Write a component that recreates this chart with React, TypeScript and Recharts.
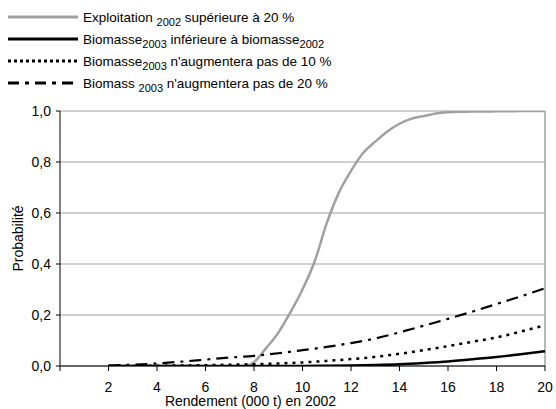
import React from "react";
import { LineChart, Line, XAxis, YAxis, CartesianGrid, ReferenceLine } from "recharts";

// rendement (000 t) en 2002, pas de 0,5 pour la courbe d'exploitation
const rendementFin = [
  2, 2.5, 3, 3.5, 4, 4.5, 5, 5.5, 6, 6.5, 7, 7.5, 8, 8.5, 9, 9.5, 10, 10.5, 11,
  11.5, 12, 12.5, 13, 13.5, 14, 14.5, 15, 15.5, 16, 16.5, 17, 17.5, 18, 18.5, 19,
  19.5, 20,
];
const exploitation = [
  0, 0, 0, 0, 0, 0, 0, 0, 0, -0.004, -0.008, -0.005, 0.015, 0.07, 0.13, 0.21,
  0.3, 0.41, 0.56, 0.68, 0.765, 0.835, 0.88, 0.92, 0.95, 0.97, 0.98, 0.99, 0.995,
  0.997, 0.998, 0.998, 0.999, 0.999, 1, 1, 1,
];

const rendement = [2, 3, 4, 5, 6, 7, 8, 9, 10, 11, 12, 13, 14, 15, 16, 17, 18, 19, 20];
const biomasseInf = [
  0, 0, 0, 0, 0, 0, 0, 0, 0, 0.001, 0.002, 0.004, 0.007, 0.012, 0.018, 0.026,
  0.035, 0.046, 0.058,
];
const biomasse10 = [
  0, 0, 0.001, 0.002, 0.003, 0.005, 0.007, 0.01, 0.014, 0.02, 0.027, 0.036,
  0.048, 0.062, 0.078, 0.095, 0.112, 0.135, 0.16,
];
const biomasse20 = [
  0.002, 0.005, 0.01, 0.017, 0.025, 0.033, 0.04, 0.05, 0.062, 0.075, 0.09,
  0.108, 0.132, 0.158, 0.185, 0.213, 0.243, 0.273, 0.305,
];

const xTicks = [0, 2, 4, 6, 8, 10, 12, 14, 16, 18, 20];
const yTicks = [0, 0.2, 0.4, 0.6, 0.8, 1];

type Part = { t: string; sub?: boolean };
const legendItems: { parts: Part[]; color: string; dash?: string }[] = [
  {
    parts: [{ t: "Exploitation " }, { t: "2002", sub: true }, { t: " supérieure à 20 %" }],
    color: "#a0a0a0",
  },
  {
    parts: [{ t: "Biomasse" }, { t: "2003", sub: true }, { t: " inférieure à biomasse" }, { t: "2002", sub: true }],
    color: "#000",
  },
  {
    parts: [{ t: "Biomasse" }, { t: "2003", sub: true }, { t: " n'augmentera pas de 10 %" }],
    color: "#000",
    dash: "3 3",
  },
  {
    parts: [{ t: "Biomass " }, { t: "2003", sub: true }, { t: " n'augmentera pas de 20 %" }],
    color: "#000",
    dash: "11 6 4 6",
  },
];

const toPts = (xs: number[], ys: number[]) => xs.map((x, i) => ({ x, y: ys[i] }));

const FONT = "'Liberation Sans', Arial, sans-serif";

function YLabel(props: any) {
  const vb = props.viewBox || {};
  const cy = vb.y + vb.height / 2;
  return (
    <text
      x={18}
      y={cy}
      transform={`rotate(-90, 18, ${cy})`}
      textAnchor="middle"
      dominantBaseline="central"
      fontSize={14}
      fill="#000"
    >
      Probabilité
    </text>
  );
}

function Legende() {
  return (
    <div style={{ position: "absolute", left: 0, top: 0, fontFamily: FONT, fontSize: 13.5, color: "#000" }}>
      {legendItems.map((it, i) => (
        <div
          key={i}
          style={{ position: "absolute", left: 8, top: 7 + i * 22, display: "flex", alignItems: "center", whiteSpace: "nowrap", height: 20 }}
        >
          <svg width={70} height={8} style={{ marginRight: 5 }}>
            <line x1={0} y1={4} x2={70} y2={4} stroke={it.color} strokeWidth={3.2} strokeDasharray={it.dash} />
          </svg>
          <span>
            {it.parts.map((p, j) =>
              p.sub ? (
                <span key={j} style={{ fontSize: 11, position: "relative", top: 4 }}>
                  {p.t}
                </span>
              ) : (
                <span key={j}>{p.t}</span>
              )
            )}
          </span>
        </div>
      ))}
    </div>
  );
}

export default function App() {
  return (
    <div style={{ position: "absolute", left: 0, top: 0, width: 556, height: 409, background: "#fff", fontFamily: FONT }}>
      <LineChart width={556} height={409} margin={{ top: 111, right: 11, bottom: 0, left: 0 }} style={{ fontFamily: FONT }}>
        <CartesianGrid vertical={false} stroke="#a0a0a0" strokeWidth={1.2} />
        <XAxis
          type="number"
          dataKey="x"
          domain={[0, 20]}
          ticks={xTicks}
          tickFormatter={(v: number) => (v === 0 ? "" : String(v))}
          height={43}
          stroke="#000"
          tickLine={{ stroke: "#000" }}
          tickSize={5}
          tickMargin={11}
          tick={{ fill: "#000", fontSize: 14 }}
          allowDuplicatedCategory={false}
          label={{ value: "Rendement (000 t) en 2002", position: "insideBottom", offset: 3, dx: -52, fill: "#000", fontSize: 14 }}
        />
        <YAxis
          type="number"
          domain={[0, 1]}
          ticks={yTicks}
          allowDataOverflow
          width={60}
          stroke="#000"
          tickSize={4}
          tickMargin={5}
          tick={{ fill: "#000", fontSize: 14 }}
          tickFormatter={(v: number) => v.toFixed(1).replace(".", ",")}
          label={<YLabel />}
        />
        <ReferenceLine x={20} stroke="#a0a0a0" strokeWidth={1.5} />
        <Line
          data={toPts(rendementFin, exploitation)}
          dataKey="y"
          type="monotone"
          stroke="#a0a0a0"
          strokeWidth={2.5}
          dot={false}
          isAnimationActive={false}
        />
        <Line
          data={toPts(rendement, biomasse20)}
          dataKey="y"
          type="monotone"
          stroke="#000"
          strokeWidth={2.2}
          strokeDasharray="12 6 3 6"
          dot={false}
          isAnimationActive={false}
        />
        <Line
          data={toPts(rendement, biomasse10)}
          dataKey="y"
          type="monotone"
          stroke="#000"
          strokeWidth={2.5}
          strokeDasharray="3 5"
          dot={false}
          isAnimationActive={false}
        />
        <Line
          data={toPts(rendement, biomasseInf)}
          dataKey="y"
          type="monotone"
          stroke="#000"
          strokeWidth={2.5}
          dot={false}
          isAnimationActive={false}
        />
      </LineChart>
      <Legende />
    </div>
  );
}
